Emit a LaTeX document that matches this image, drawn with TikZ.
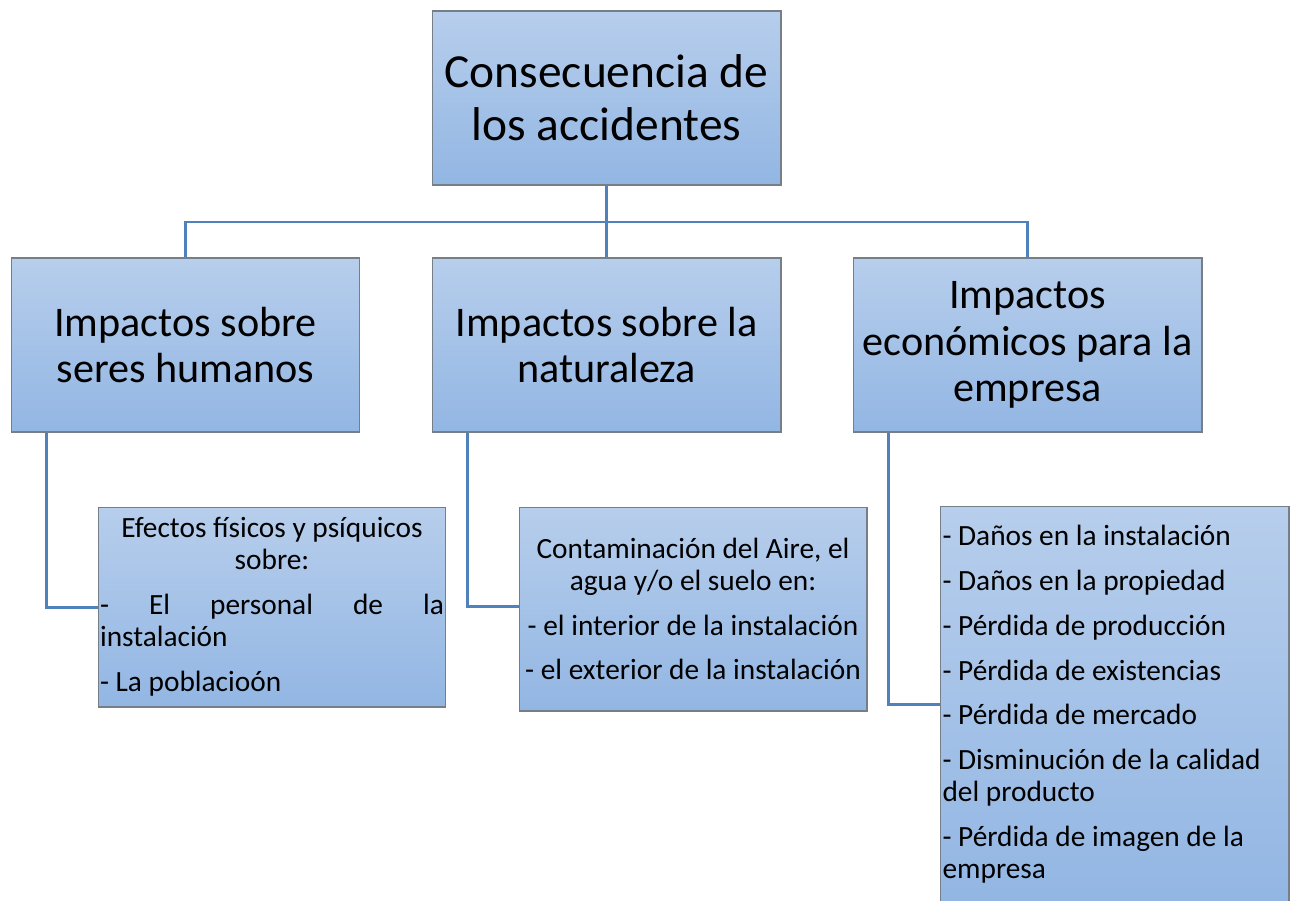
\documentclass[tikz,border=0pt]{standalone}
\usepackage{fontspec}
\setmainfont{Carlito}

\definecolor{boxtop}{RGB}{183,206,236}
\definecolor{boxbot}{RGB}{146,182,227}
\definecolor{boxline}{RGB}{118,126,136}
\definecolor{linkblue}{RGB}{79,129,189}

\newcommand\plainspaces{\spaceskip=0pt\xspaceskip=0pt\relax}

\begin{document}
\begin{tikzpicture}[x=0.02cm, y=-0.02cm,
    box/.style={draw=boxline, line width=0.6pt, top color=boxtop, bottom color=boxbot, inner sep=0pt,
                execute at begin node=\plainspaces},
    headbox/.style={box, minimum width=6.98cm, minimum height=3.48cm, text width=6.8cm},
    listbox/.style={box, minimum width=6.96cm, text width=6.88cm, font=\fontsize{16.7}{18.3}\selectfont},
    link/.style={draw=linkblue, line width=1.7pt}]

    \useasboundingbox (0,0) rectangle (1295,900);

    % Root box
    \node[headbox, font=\fontsize{27}{30}\selectfont] (root) at (606.5,98) {\centering Consecuencia de\\los accidentes\par};

    % second level
    \node[headbox, font=\fontsize{24}{26.4}\selectfont] (humanos) at (185.5,345) {\centering Impactos sobre\\seres humanos\par};
    \node[headbox, font=\fontsize{24}{26.4}\selectfont] (natura) at (606.5,345) {\centering Impactos sobre la\\naturaleza\par};
    \node[headbox, font=\fontsize{24}{26.4}\selectfont] (empresa) at (1027.5,345) {\centering Impactos\\económicos para la\\empresa\par};

    % third level
    \node[listbox, minimum height=4cm] (fisicos) at (272,607) {\raggedright
        \makebox[\linewidth][c]{Efectos físicos y psíquicos}\\
        \makebox[\linewidth][c]{sobre:}\\[7.2pt]
        \makebox[\linewidth][s]{- El personal de la}\\
        instalación\\[7.2pt]
        - La poblacioón\par};
    \node[listbox, minimum height=4.08cm] (contamina) at (693,609) {\centering
        Contaminación del Aire, el\\
        agua y/o el suelo en:\\[7.2pt]
        - el interior de la instalación\\[7.2pt]
        - el exterior de la instalación\par};
    \node[listbox, minimum width=6.98cm, minimum height=7.94cm] (danos) at (1114.5,704.5) {\raggedright
        - Daños en la instalación\\[7.2pt]
        - Daños en la propiedad\\[7.2pt]
        - Pérdida de producción\\[7.2pt]
        - Pérdida de existencias\\[7.2pt]
        - Pérdida de mercado\\[7.2pt]
        - Disminución de la calidad\\
        del producto\\[7.2pt]
        - Pérdida de imagen de la\\
        empresa\par};

    % connectors root to second level
    \coordinate (bus) at (606.5,222);
    \draw[link] (root.south) -- (bus);
    \draw[link] (bus) -| (humanos.north);
    \draw[link] (bus) -| (empresa.north);
    \draw[link] (bus) -- (natura.north);

    % elbows to third level
    \draw[link] ([xshift=0.72cm]humanos.south west) |- (fisicos.west);
    \draw[link] ([xshift=0.72cm]natura.south west) |- ([yshift=0.06cm]contamina.west);
    \draw[link] ([xshift=0.72cm]empresa.south west) |- (danos.west);

\end{tikzpicture}
\end{document}
